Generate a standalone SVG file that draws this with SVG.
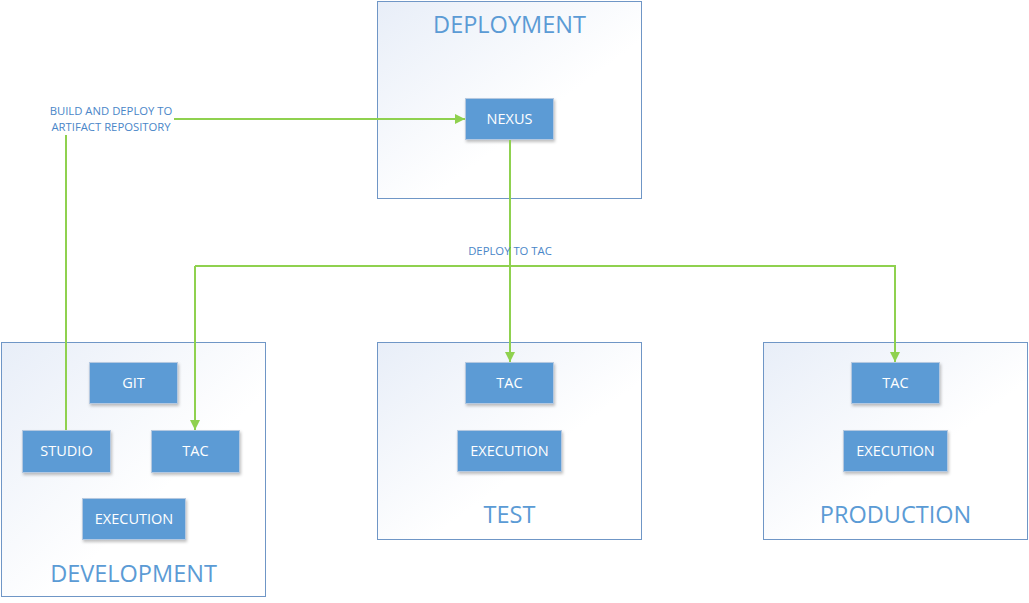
<svg xmlns="http://www.w3.org/2000/svg" width="1029" height="603" viewBox="0 0 1029 603">
<defs>
<linearGradient id="cg" x1="0" y1="0" x2="1" y2="1">
<stop offset="0" stop-color="#e8eef8"/>
<stop offset="0.6" stop-color="#ffffff"/>
<stop offset="1" stop-color="#ffffff"/>
</linearGradient>
<filter id="sh" x="-20%" y="-20%" width="140%" height="150%">
<feDropShadow dx="1" dy="2" stdDeviation="1.5" flood-color="#000" flood-opacity="0.25"/>
</filter>
<marker id="ah" viewBox="0 0 10 10" refX="10" refY="5" markerWidth="10" markerHeight="10" markerUnits="userSpaceOnUse" orient="auto">
<path d="M0,0 L10,5 L0,10 z" fill="#8fd14f"/>
</marker>
<style>
.cont{fill:url(#cg);stroke:#6f96c6;stroke-width:1}
.box{fill:#5b9bd5;stroke:#b4c8e0;stroke-width:1;filter:url(#sh)}
.bt{fill:#ffffff;font-family:"Open Sans","Liberation Sans",sans-serif;font-size:14.5px;text-anchor:middle}
.ct{fill:#5b9bd5;font-family:"Open Sans","Liberation Sans",sans-serif;font-size:23.5px;text-anchor:middle}
.lbl{fill:#4a86c8;font-family:"Open Sans","Liberation Sans",sans-serif;font-size:11.3px;text-anchor:middle}
.ln{fill:none;stroke:#8fd14f;stroke-width:2}
</style>
</defs>
<rect width="1029" height="603" fill="#ffffff"/>
<g id="deployment">
<rect class="cont" x="377.5" y="1.5" width="264" height="197"/>
<text class="ct" x="509.5" y="33">DEPLOYMENT</text>
</g>
<g id="development">
<rect class="cont" x="1.5" y="342.5" width="264" height="254"/>
<text class="ct" x="133.5" y="582">DEVELOPMENT</text>
</g>
<g id="test">
<rect class="cont" x="377.5" y="342.5" width="264" height="197"/>
<text class="ct" x="509.5" y="523">TEST</text>
</g>
<g id="production">
<rect class="cont" x="763.5" y="342.5" width="264" height="197"/>
<text class="ct" x="895.5" y="523">PRODUCTION</text>
</g>
<g id="nexus"><rect class="box" x="465.5" y="98.5" width="88" height="41"/><text class="bt" x="509.5" y="124">NEXUS</text></g>
<g id="git"><rect class="box" x="89.5" y="362.5" width="88" height="41"/><text class="bt" x="133.5" y="388">GIT</text></g>
<g id="studio"><rect class="box" x="22.5" y="430.5" width="88" height="42"/><text class="bt" x="66.5" y="456">STUDIO</text></g>
<g id="dev-tac"><rect class="box" x="151.5" y="430.5" width="88" height="42"/><text class="bt" x="195.5" y="456">TAC</text></g>
<g id="dev-execution"><rect class="box" x="82.5" y="498.5" width="103" height="41"/><text class="bt" x="134" y="524">EXECUTION</text></g>
<g id="test-tac"><rect class="box" x="465.5" y="362.5" width="88" height="41"/><text class="bt" x="509.5" y="388">TAC</text></g>
<g id="test-execution"><rect class="box" x="457.5" y="430.5" width="104" height="41"/><text class="bt" x="509.5" y="456">EXECUTION</text></g>
<g id="prod-tac"><rect class="box" x="851.5" y="362.5" width="88" height="41"/><text class="bt" x="895.5" y="388">TAC</text></g>
<g id="prod-execution"><rect class="box" x="843.5" y="430.5" width="104" height="41"/><text class="bt" x="895.5" y="456">EXECUTION</text></g>
<g id="connectors">
<path class="ln" d="M66,430 L66,135"/>
<path class="ln" d="M174,119 L465,119" marker-end="url(#ah)"/>
<path class="ln" d="M510,140 L510,362" marker-end="url(#ah)"/>
<path class="ln" d="M195,266 L895,266 L895,362" marker-end="url(#ah)"/>
<path class="ln" d="M195,266 L195,430" marker-end="url(#ah)"/>
<text class="lbl" x="111" y="115">BUILD AND DEPLOY TO</text>
<text class="lbl" x="111" y="131">ARTIFACT REPOSITORY</text>
<text class="lbl" x="510" y="255">DEPLOY TO TAC</text>
</g>
</svg>
